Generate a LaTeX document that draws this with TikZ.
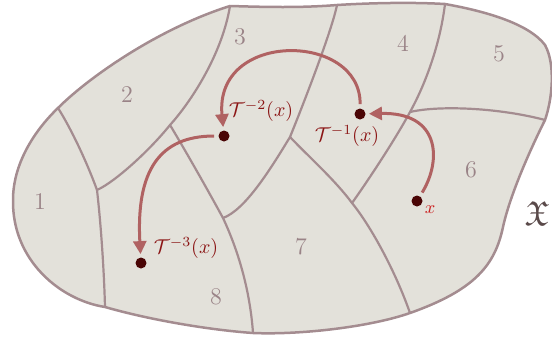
\documentclass[tikz,border=0pt]{standalone}
\usepackage{amssymb}
\usetikzlibrary{arrows.meta}

\definecolor{regionfill}{HTML}{E3E1DA}
\definecolor{edgecol}{HTML}{A48C90}
\definecolor{numcol}{HTML}{9A8387}
\definecolor{arrowcol}{HTML}{B06262}
\definecolor{dotcol}{HTML}{4A0505}
\definecolor{labelcol}{HTML}{8B1515}
\definecolor{pointcol}{HTML}{CC2222}
\definecolor{spacecol}{HTML}{5A4A4A}

\begin{document}
\begin{tikzpicture}[
  x=0.5pt,y=-0.5pt,
  border/.style={draw=edgecol,line width=1.25pt,fill=regionfill},
  cell/.style={draw=edgecol,line width=1.1pt},
  region/.style={text=numcol,font=\large},
  orbit/.style={circle,fill=dotcol,inner sep=0pt,minimum size=5.5pt},
  orbitlabel/.style={text=labelcol},
  jump/.style={-{Triangle[length=6.5pt,width=6.5pt]},draw=arrowcol,line width=1.5pt,
    shorten >=1.5pt,shorten <=2pt}
]
  \useasboundingbox (0,0) rectangle (552,343);

  % junctions of the partition
  \coordinate (jA) at (58,108);
  \coordinate (jB) at (97,190);
  \coordinate (jC) at (170,125);
  \coordinate (jD) at (223,218);
  \coordinate (jE) at (290,137);
  \coordinate (jF) at (352,203);
  \coordinate (jG) at (410,112);
  % ends on the boundary
  \coordinate (bA) at (105,307);
  \coordinate (t23) at (230,6);
  \coordinate (b8) at (253,333);
  \coordinate (t34) at (337,5);
  \coordinate (b67) at (410,313);
  \coordinate (t45) at (445,4);
  \coordinate (r56) at (545,120);

  % the space
  \path[border] (jA) .. controls (90,76) and (160,28) .. (t23)
    .. controls (265,7) and (300,8) .. (t34)
    .. controls (370,3) and (410,2) .. (t45)
    .. controls (490,12) and (530,25) .. (545,45)
    .. controls (556,65) and (552,100) .. (r56)
    .. controls (530,150) and (510,195) .. (503,227)
    .. controls (495,265) and (475,290) .. (b67)
    .. controls (370,327) and (300,335) .. (b8)
    .. controls (210,330) and (150,320) .. (bA)
    .. controls (60,300) and (12,260) .. (13,200)
    .. controls (13,165) and (33,132) .. (jA) -- cycle;

  % cells
  \draw[cell] (jA) .. controls (72,130) and (88,165) .. (jB)
    .. controls (101,225) and (104,270) .. (bA);
  \draw[cell] (jB) .. controls (115,182) and (150,150) .. (jC)
    .. controls (190,103) and (222,55) .. (t23);
  \draw[cell] (jC) .. controls (185,150) and (205,185) .. (jD)
    .. controls (238,250) and (250,290) .. (b8);
  \draw[cell] (jD) .. controls (245,210) and (270,170) .. (jE)
    .. controls (305,100) and (332,30) .. (t34);
  \draw[cell] (jE) .. controls (310,158) and (335,180) .. (jF)
    .. controls (370,225) and (395,270) .. (b67);
  \draw[cell] (jF) .. controls (365,185) and (395,140) .. (jG)
    .. controls (425,85) and (440,45) .. (t45);
  \draw[cell] (jG) .. controls (440,105) and (500,108) .. (r56);

  % region numbers
  \node[region] (n1) at (40,202) {1};
  \node[region] (n2) at (127,95) {2};
  \node[region] (n3) at (240,37) {3};
  \node[region] (n4) at (403,43) {4};
  \node[region] (n5) at (499,54) {5};
  \node[region] (n6) at (471,170) {6};
  \node[region] (n7) at (301,247) {7};
  \node[region] (n8) at (216,297) {8};
  \node[text=spacecol,font=\LARGE] (space) at (537,214) {$\mathfrak{X}$};

  % orbit points
  \node[orbit] (px) at (417,201) {};
  \node[orbit] (p1) at (360,114) {};
  \node[orbit] (p2) at (224,136) {};
  \node[orbit] (p3) at (141,263) {};

  \node[text=pointcol,font=\small] (lx) at (430,210) {$x$};
  \node[orbitlabel] (l1) at (347,136) {$\mathcal{T}^{-1}(x)$};
  \node[orbitlabel] (l2) at (261,111) {$\mathcal{T}^{-2}(x)$};
  \node[orbitlabel] (l3) at (186,248) {$\mathcal{T}^{-3}(x)$};

  % backward orbit
  \draw[jump] (px) .. controls (442,160) and (440,112) .. (p1);
  \draw[jump] (p1) .. controls (361,32) and (214,30) .. (p2);
  \draw[jump] (p2) .. controls (160,136) and (136,170) .. (p3);
\end{tikzpicture}
\end{document}
